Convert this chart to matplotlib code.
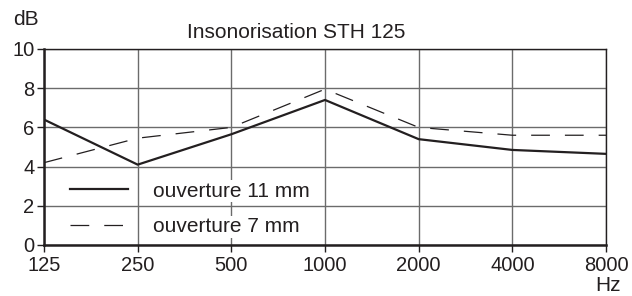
import matplotlib
matplotlib.use('Agg')
from matplotlib import pyplot as plt

# Frequency bands and insulation values
freqs = ['125', '250', '500', '1000', '2000', '4000', '8000']
open_11mm = [6.4, 4.1, 5.65, 7.4, 5.4, 4.85, 4.65]
open_7mm = [4.2, 5.45, 6.0, 7.95, 6.0, 5.6, 5.6]
y_ticks = [0, 2, 4, 6, 8, 10]

plt.rcParams['font.family'] = ['Liberation Sans', 'DejaVu Sans']

fig = plt.figure(figsize=(6.32, 2.96), dpi=100)
ax = fig.add_axes([44 / 632, 1 - 245 / 296, 562 / 632, 196 / 296])

x = list(range(len(freqs)))
ax.plot(x, open_11mm, color='#231f20', lw=1.6, label='ouverture 11 mm', zorder=3)
ax.plot(x, open_7mm, color='#231f20', lw=0.9, linestyle=(0, (15, 12)),
        label='ouverture 7 mm', zorder=3)

ax.set_xlim(0, 6)
ax.set_ylim(0, 10)
ax.set_xticks(x)
ax.set_xticklabels(freqs)
ax.set_yticks(y_ticks)
ax.tick_params(axis='both', labelsize=14.5, colors='#231f20', length=5, width=1,
               direction='out', pad=2)
ax.tick_params(axis='x', pad=3)

# Grid
ax.set_axisbelow(True)
ax.grid(True, color='#6b6b6b', linewidth=1.0)

# Spines
for side in ['left', 'bottom']:
    ax.spines[side].set_linewidth(1.8)
    ax.spines[side].set_color('#231f20')
for side in ['top', 'right']:
    ax.spines[side].set_linewidth(1.0)
    ax.spines[side].set_color('#231f20')

# Legend
legend = ax.legend(loc='lower left', bbox_to_anchor=(0.046, 0.045), frameon=False,
                   fontsize=15, handlelength=2.8, handletextpad=1.2,
                   labelspacing=0.8, borderpad=0, borderaxespad=0)
for t in legend.get_texts():
    t.set_bbox(dict(facecolor='white', edgecolor='none', pad=1))
    t.set_color('#231f20')

# Title and unit labels
fig.text(296 / 632, 1 - 38 / 296, 'Insonorisation STH 125', ha='center',
         va='baseline', fontsize=15, color='#231f20')
fig.text(13 / 632, 1 - 25 / 296, 'dB', ha='left', va='baseline',
         fontsize=15, color='#231f20')
fig.text(621 / 632, 1 - 291 / 296, 'Hz', ha='right', va='baseline',
         fontsize=15, color='#231f20')

plt.savefig('out.png', dpi=100)
